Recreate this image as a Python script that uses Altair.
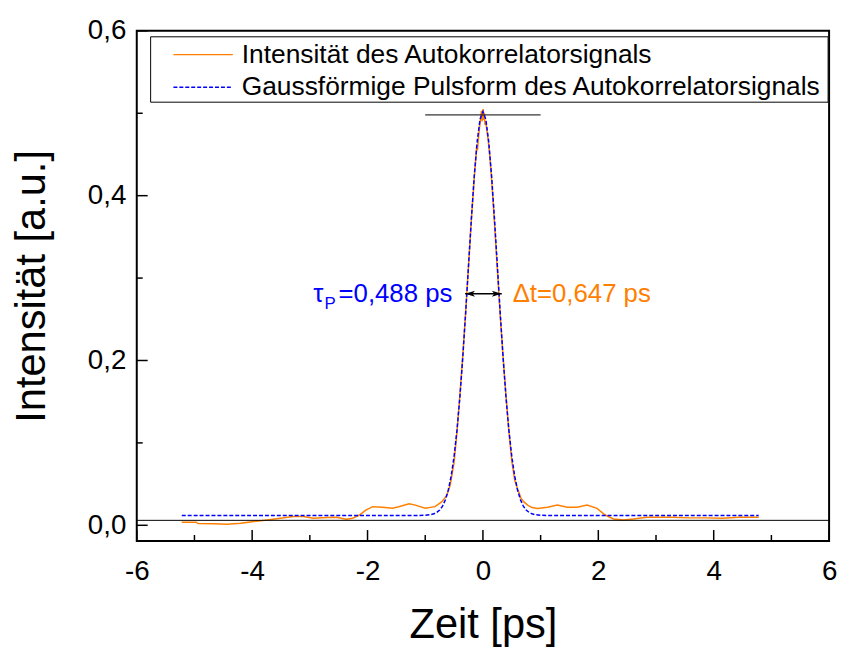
import altair as alt
import pandas as pd

FONT = "Liberation Sans"
ORANGE = "#FF8000"
BLUE = "#0000FF"

# measured autocorrelator signal (orange)
sig_x = [-5.22, -4.97, -4.94, -4.66, -4.43, -4.20, -3.97, -3.74, -3.51, -3.29, -3.11, -2.94,
         -2.71, -2.54, -2.37, -2.26, -2.14, -2.03, -1.91, -1.74, -1.57, -1.46, -1.28, -1.17,
         -1.00, -0.83, -0.71, -0.625, -0.568, -0.5, -0.45, -0.4, -0.35, -0.3, -0.25, -0.2,
         -0.15, -0.12, -0.105, -0.095, -0.08, -0.06, -0.04, -0.025, -0.015, -0.005, 0.005,
         0.015, 0.025, 0.035, 0.05, 0.07, 0.09, 0.12, 0.15, 0.2, 0.25, 0.3, 0.35, 0.4, 0.45,
         0.5, 0.55, 0.6, 0.66, 0.7, 0.775, 0.85, 0.947, 1.118, 1.29, 1.462, 1.633, 1.805,
         1.977, 2.12, 2.263, 2.435, 2.607, 2.835, 3.065, 3.29, 3.58, 3.865, 4.15, 4.44, 4.61, 4.78]
sig_y = [0.0037, 0.0037, 0.0022, 0.0019, 0.0013, 0.0025, 0.0046, 0.0065, 0.0085, 0.0106, 0.0106, 0.0085,
         0.0094, 0.0097, 0.0073, 0.0085, 0.0125, 0.0185, 0.0226, 0.0218, 0.0206, 0.0226, 0.0262, 0.0245,
         0.0206, 0.0226, 0.0286, 0.0365, 0.0486, 0.076, 0.113, 0.157, 0.205, 0.258, 0.314, 0.371,
         0.422, 0.448, 0.462, 0.455, 0.468, 0.482, 0.494, 0.503, 0.490, 0.498, 0.505,
         0.492, 0.500, 0.486, 0.489, 0.478, 0.468, 0.447, 0.420, 0.367, 0.310, 0.254, 0.204, 0.157, 0.114,
         0.078, 0.055, 0.044, 0.033, 0.029, 0.0245, 0.0215, 0.0205, 0.022, 0.0245, 0.022, 0.022, 0.0245,
         0.0205, 0.0125, 0.0077, 0.0065, 0.0077, 0.0097, 0.0097, 0.0097, 0.009, 0.009, 0.0085, 0.0097, 0.0097, 0.0097]

# gaussian pulse shape (blue dashed)
fit_x = [-5.22, -1.1, -1.0, -0.9, -0.85, -0.8, -0.75, -0.7, -0.65, -0.6, -0.55, -0.5, -0.45, -0.4,
         -0.35, -0.3, -0.25, -0.2, -0.15, -0.1, -0.05, 0.0, 0.05, 0.1, 0.15, 0.2, 0.25, 0.3, 0.35,
         0.4, 0.45, 0.5, 0.55, 0.6, 0.65, 0.7, 0.75, 0.8, 0.85, 0.9, 1.0, 1.1, 4.78]
fit_y = [0.012, 0.012, 0.0122, 0.013, 0.0139, 0.0156, 0.0185, 0.0233, 0.031, 0.0428, 0.0599, 0.0837,
         0.1153, 0.1552, 0.2031, 0.2573, 0.315, 0.3722, 0.4241, 0.4657, 0.4927, 0.502, 0.4927, 0.4657,
         0.4241, 0.3722, 0.315, 0.2573, 0.2031, 0.1552, 0.1153, 0.0837, 0.0599, 0.0428, 0.031, 0.0233,
         0.0185, 0.0156, 0.0139, 0.013, 0.0122, 0.012, 0.012]

x_major = [-6, -4, -2, 0, 2, 4, 6]
x_minor = [-5, -3, -1, 1, 3, 5]
y_major = [0.0, 0.2, 0.4, 0.6]
y_minor = [0.1, 0.3, 0.5]

legend_labels = ["Intensität des Autokorrelatorsignals",
                 "Gaussförmige Pulsform des Autokorrelatorsignals"]

# annotations
peak_line = {"t": -1.0, "t2": 1.0, "v": 0.498}
zero_line = 0.006
arrow = {"t": -0.309, "t2": 0.326, "v": 0.281}
tau_text = ["τ", "P", "=0,488 ps"]
dt_text = "Δt=0,647 ps"

W, H = 699, 515
xs = alt.Scale(domain=[-6, 6], nice=False, zero=False)
ys = alt.Scale(domain=[-0.019, 0.6], nice=False, zero=False)

xaxis = alt.Axis(values=x_major, ticks=False, domain=False, grid=False,
                 labelFontSize=28, labelFont=FONT, labelColor="black", labelPadding=17,
                 labelFlush=False, labelOverlap=False, labelExpr="datum.value + ''",
                 title="Zeit [ps]", titleFontSize=42, titleFont=FONT, titleFontWeight="normal",
                 titleColor="black", titleY=97, titleBaseline="alphabetic")
yaxis = alt.Axis(values=y_major, ticks=False, domain=False, grid=False,
                 labelFontSize=28, labelFont=FONT, labelColor="black", labelPadding=11,
                 labelFlush=False, labelOverlap=False,
                 labelExpr="replace(format(datum.value, '.1f'), '.', ',')",
                 title="Intensität [a.u.]", titleFontSize=42, titleFont=FONT,
                 titleFontWeight="normal", titleColor="black", titleX=-93.5,
                 titleBaseline="alphabetic")

X = alt.X("t:Q", scale=xs, axis=xaxis)
Y = alt.Y("v:Q", scale=ys, axis=yaxis)

sig = pd.DataFrame({"t": sig_x, "v": sig_y})
fit = pd.DataFrame({"t": fit_x, "v": fit_y})

sig_line = alt.Chart(sig).mark_line(color=ORANGE, strokeWidth=1.5).encode(x=X, y=Y, order="t:Q")
fit_line = alt.Chart(fit).mark_line(color=BLUE, strokeWidth=1.5, strokeDash=[4, 2]).encode(x=X, y=Y, order="t:Q")

zero_rule = alt.Chart(pd.DataFrame({"v": [zero_line]})).mark_rule(color="black", strokeWidth=1).encode(
    y=Y, x=alt.value(0), x2=alt.value(W))
peak_rule = alt.Chart(pd.DataFrame([peak_line])).mark_rule(color="black", strokeWidth=1).encode(
    x=X, x2="t2:Q", y=Y)

arrow_df = pd.DataFrame([arrow])
arrow_rule = alt.Chart(arrow_df).mark_rule(color="black", strokeWidth=1.5).encode(x=X, x2="t2:Q", y=Y)
heads = pd.DataFrame({"t": [arrow["t"] + 0.086, arrow["t2"] - 0.086], "v": [arrow["v"]] * 2,
                      "dir": ["l", "r"]})
head_l = alt.Chart(heads[heads.dir == "l"]).mark_point(
    shape="M-1,0 L1,-0.6 L0.5,0 L1,0.6 Z", filled=True, color="black", size=100, opacity=1).encode(x=X, y=Y)
head_r = alt.Chart(heads[heads.dir == "r"]).mark_point(
    shape="M1,0 L-1,-0.6 L-0.5,0 L-1,0.6 Z", filled=True, color="black", size=100, opacity=1).encode(x=X, y=Y)

tau_df = pd.DataFrame({"t": [-2.94], "v": [0.2705]})
tau1 = alt.Chart(tau_df).mark_text(text=tau_text[0], font=FONT, fontSize=26, color=BLUE,
                                   align="left", baseline="alphabetic").encode(x=X, y=Y)
tau2 = alt.Chart(pd.DataFrame({"t": [-2.745], "v": [0.263]})).mark_text(
    text=tau_text[1], font=FONT, fontSize=17, color=BLUE, align="left", baseline="alphabetic").encode(x=X, y=Y)
tau3 = alt.Chart(pd.DataFrame({"t": [-0.53], "v": [0.2705]})).mark_text(
    text=tau_text[2], font=FONT, fontSize=26, color=BLUE, align="right", baseline="alphabetic").encode(x=X, y=Y)
dt = alt.Chart(pd.DataFrame({"t": [0.515], "v": [0.2705]})).mark_text(
    text=dt_text, font=FONT, fontSize=26, color=ORANGE, align="left", baseline="alphabetic").encode(x=X, y=Y)

# ticks (inward)
xt_major = alt.Chart(pd.DataFrame({"t": x_major})).mark_rule(color="black", strokeWidth=1.5).encode(
    x=X, y=alt.value(H), y2=alt.value(H - 11))
xt_minor = alt.Chart(pd.DataFrame({"t": x_minor})).mark_rule(color="black", strokeWidth=1.5).encode(
    x=X, y=alt.value(H), y2=alt.value(H - 6))
yt_major = alt.Chart(pd.DataFrame({"v": y_major})).mark_rule(color="black", strokeWidth=1.5).encode(
    y=Y, x=alt.value(0), x2=alt.value(11))
yt_minor = alt.Chart(pd.DataFrame({"v": y_minor})).mark_rule(color="black", strokeWidth=1.5).encode(
    y=Y, x=alt.value(0), x2=alt.value(6))

# legend box
one = pd.DataFrame({"a": [0]})
leg_box = alt.Chart(one).mark_rect(fill="white", stroke="black", strokeWidth=1).encode(
    x=alt.value(14), x2=alt.value(698), y=alt.value(6), y2=alt.value(72))
leg_l1 = alt.Chart(one).mark_rule(color=ORANGE, strokeWidth=1.5).encode(
    x=alt.value(37), x2=alt.value(97), y=alt.value(24))
leg_l2 = alt.Chart(one).mark_rule(color=BLUE, strokeWidth=1.5, strokeDash=[4, 2]).encode(
    x=alt.value(37), x2=alt.value(97), y=alt.value(57))
leg_t1 = alt.Chart(one).mark_text(text=legend_labels[0], font=FONT, fontSize=26.6, color="black",
                                  align="left", baseline="middle").encode(x=alt.value(106), y=alt.value(24))
leg_t2 = alt.Chart(one).mark_text(text=legend_labels[1], font=FONT, fontSize=26.6, color="black",
                                  align="left", baseline="middle").encode(x=alt.value(106), y=alt.value(57))

chart = alt.layer(
    sig_line, zero_rule, peak_rule, fit_line, arrow_rule, head_l, head_r, tau1, tau2, tau3, dt,
    xt_major, xt_minor, yt_major, yt_minor, leg_box, leg_l1, leg_l2, leg_t1, leg_t2
).properties(
    width=W, height=H,
    autosize=alt.AutoSizeParams(type="none"),
    padding={"left": 130, "top": 20, "right": 10, "bottom": 105},
    background="white",
).configure_view(stroke="black", strokeWidth=2)

chart.save("out.html", embed_options={"renderer": "svg", "actions": False})
